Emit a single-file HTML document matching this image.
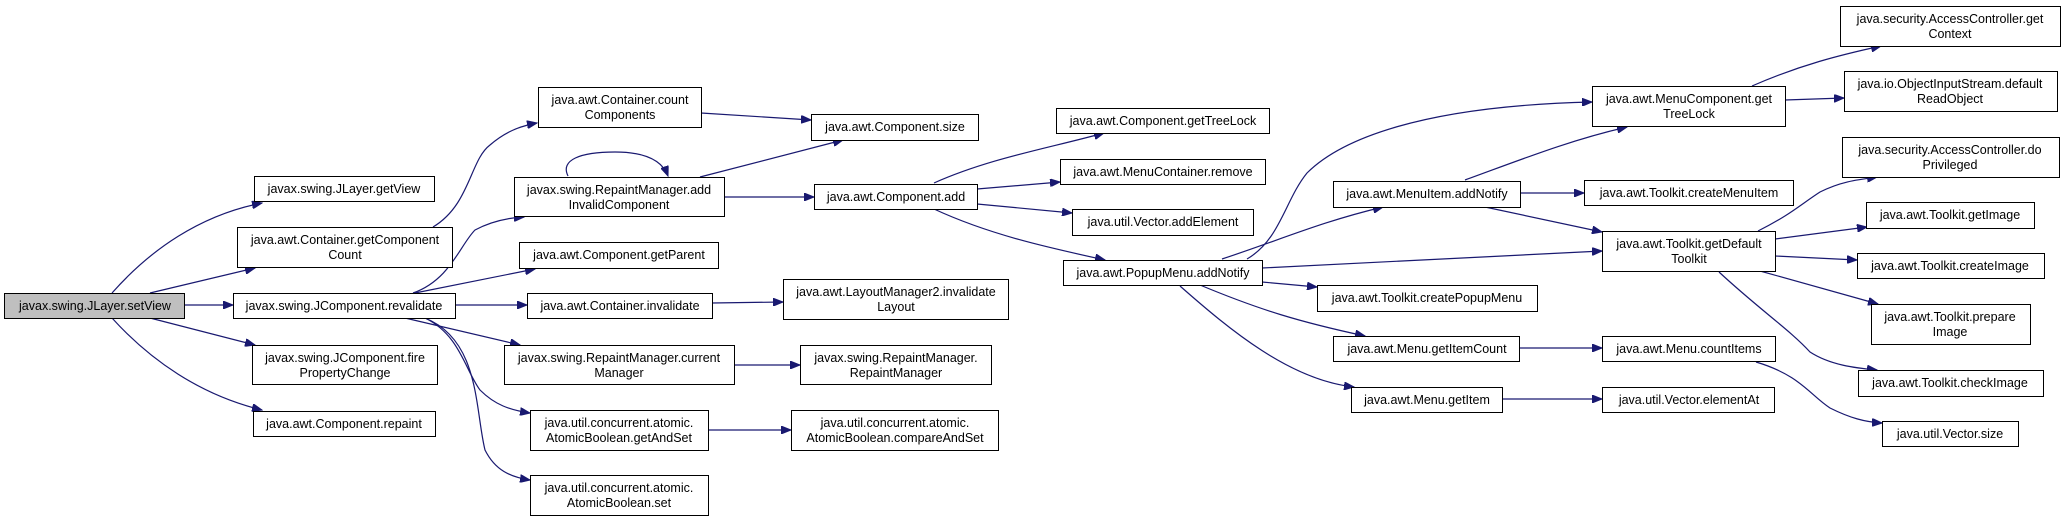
<!DOCTYPE html>
<html><head><meta charset="utf-8"><style>
html,body{margin:0;padding:0;background:#fff}
svg{display:block}
text{font-family:"Liberation Sans",Arial,sans-serif;font-size:12.5px;fill:#000;text-anchor:middle}
rect{fill:#fff;stroke:#000;stroke-width:1}
path{fill:none;stroke:#191970;stroke-width:1.2}
</style></head><body>
<svg width="2063" height="521" viewBox="0 0 2063 521" xmlns="http://www.w3.org/2000/svg">
<defs><marker id="a" markerWidth="11" markerHeight="8" refX="10" refY="4" orient="auto" markerUnits="userSpaceOnUse"><path d="M0,0 L10,4 L0,8 Z" style="fill:#191970;stroke:#191970;stroke-width:1"/></marker></defs>
<g marker-end="url(#a)">
<path d="M112,293 C150,250 200,215 262,203"/>
<path d="M150,293 L255,268"/>
<path d="M185,305 L233,305"/>
<path d="M150,318 L255,345"/>
<path d="M112,318 C150,360 200,395 262,410"/>
<path d="M433,227 C470,205 470,160 490,145 C505,132 520,126 537,123"/>
<path d="M413,293 C450,280 460,245 475,230 C490,222 505,218 524,217"/>
<path d="M415,293 L535,269"/>
<path d="M455,305 L527,305"/>
<path d="M405,318 L520,345"/>
<path d="M425,318 C460,335 465,370 480,390 C495,405 510,410 530,413"/>
<path d="M425,318 C480,340 475,410 485,450 C495,470 510,477 530,480"/>
<path d="M568,176 C560,160 580,152 615,152 C645,152 662,160 668,176"/>
<path d="M700,177 L843,140"/>
<path d="M701,113 L811,120"/>
<path d="M724,197 L814,197"/>
<path d="M712,303 L783,302"/>
<path d="M734,365 L800,365"/>
<path d="M708,430 L791,430"/>
<path d="M934,183 C990,158 1050,148 1104,133"/>
<path d="M977,189 L1060,182"/>
<path d="M977,204 L1072,213"/>
<path d="M934,209 C990,235 1050,248 1105,260"/>
<path d="M1247,259 C1280,240 1285,200 1307,173 C1340,140 1420,106 1592,102"/>
<path d="M1222,259 C1280,240 1320,222 1383,207"/>
<path d="M1262,268 L1602,251"/>
<path d="M1262,282 L1317,287"/>
<path d="M1200,285 C1260,310 1300,322 1365,336"/>
<path d="M1180,286 C1230,330 1290,380 1354,387"/>
<path d="M1465,180 C1520,160 1570,140 1627,127"/>
<path d="M1520,193 L1584,193"/>
<path d="M1485,207 L1602,232"/>
<path d="M1752,86 C1800,65 1840,55 1881,46"/>
<path d="M1785,100 L1844,98"/>
<path d="M1758,231 C1790,215 1800,205 1820,192 C1840,182 1855,180 1877,177"/>
<path d="M1775,239 L1867,227"/>
<path d="M1775,256 L1857,260"/>
<path d="M1760,271 L1878,304"/>
<path d="M1719,272 C1760,310 1790,330 1810,352 C1830,365 1855,368 1877,370"/>
<path d="M1520,348 L1602,348"/>
<path d="M1502,399 L1602,399"/>
<path d="M1756,362 C1800,375 1810,395 1830,408 C1850,418 1865,422 1882,423"/>
</g>
<g>
<rect x="4.5" y="293.5" width="180" height="25" style="fill:#bfbfbf"/><text x="95" y="310">javax.swing.JLayer.setView</text>
<rect x="254.5" y="176.5" width="180" height="25"/><text x="344" y="193">javax.swing.JLayer.getView</text>
<rect x="237.5" y="227.5" width="215" height="40"/><text x="345" y="244">java.awt.Container.getComponent</text><text x="345" y="259">Count</text>
<rect x="233.5" y="293.5" width="222" height="25"/><text x="344" y="310">javax.swing.JComponent.revalidate</text>
<rect x="252.5" y="345.5" width="185" height="39"/><text x="345" y="362">javax.swing.JComponent.fire</text><text x="345" y="377">PropertyChange</text>
<rect x="253.5" y="411.5" width="182" height="25"/><text x="344" y="428">java.awt.Component.repaint</text>
<rect x="538.5" y="87.5" width="163" height="40"/><text x="620" y="104">java.awt.Container.count</text><text x="620" y="119">Components</text>
<rect x="514.5" y="177.5" width="210" height="39"/><text x="619" y="194">javax.swing.RepaintManager.add</text><text x="619" y="209">InvalidComponent</text>
<rect x="519.5" y="242.5" width="199" height="26"/><text x="619" y="259">java.awt.Component.getParent</text>
<rect x="527.5" y="293.5" width="185" height="25"/><text x="620" y="310">java.awt.Container.invalidate</text>
<rect x="504.5" y="345.5" width="230" height="39"/><text x="619" y="362">javax.swing.RepaintManager.current</text><text x="619" y="377">Manager</text>
<rect x="530.5" y="410.5" width="178" height="40"/><text x="619" y="427">java.util.concurrent.atomic.</text><text x="619" y="442">AtomicBoolean.getAndSet</text>
<rect x="530.5" y="475.5" width="178" height="40"/><text x="619" y="492">java.util.concurrent.atomic.</text><text x="619" y="507">AtomicBoolean.set</text>
<rect x="811.5" y="114.5" width="167" height="26"/><text x="895" y="131">java.awt.Component.size</text>
<rect x="814.5" y="184.5" width="163" height="25"/><text x="896" y="201">java.awt.Component.add</text>
<rect x="783.5" y="279.5" width="225" height="40"/><text x="896" y="296">java.awt.LayoutManager2.invalidate</text><text x="896" y="311">Layout</text>
<rect x="800.5" y="345.5" width="191" height="39"/><text x="896" y="362">javax.swing.RepaintManager.</text><text x="896" y="377">RepaintManager</text>
<rect x="791.5" y="410.5" width="207" height="40"/><text x="895" y="427">java.util.concurrent.atomic.</text><text x="895" y="442">AtomicBoolean.compareAndSet</text>
<rect x="1056.5" y="108.5" width="213" height="25"/><text x="1163" y="125">java.awt.Component.getTreeLock</text>
<rect x="1060.5" y="159.5" width="205" height="25"/><text x="1163" y="176">java.awt.MenuContainer.remove</text>
<rect x="1072.5" y="209.5" width="181" height="26"/><text x="1163" y="226">java.util.Vector.addElement</text>
<rect x="1063.5" y="260.5" width="199" height="25"/><text x="1163" y="277">java.awt.PopupMenu.addNotify</text>
<rect x="1333.5" y="181.5" width="187" height="26"/><text x="1427" y="198">java.awt.MenuItem.addNotify</text>
<rect x="1317.5" y="285.5" width="220" height="26"/><text x="1427" y="302">java.awt.Toolkit.createPopupMenu</text>
<rect x="1333.5" y="336.5" width="186" height="25"/><text x="1427" y="353">java.awt.Menu.getItemCount</text>
<rect x="1351.5" y="387.5" width="151" height="25"/><text x="1427" y="404">java.awt.Menu.getItem</text>
<rect x="1592.5" y="86.5" width="193" height="40"/><text x="1689" y="103">java.awt.MenuComponent.get</text><text x="1689" y="118">TreeLock</text>
<rect x="1584.5" y="180.5" width="209" height="25"/><text x="1689" y="197">java.awt.Toolkit.createMenuItem</text>
<rect x="1602.5" y="231.5" width="173" height="40"/><text x="1689" y="248">java.awt.Toolkit.getDefault</text><text x="1689" y="263">Toolkit</text>
<rect x="1602.5" y="336.5" width="173" height="25"/><text x="1689" y="353">java.awt.Menu.countItems</text>
<rect x="1602.5" y="387.5" width="172" height="25"/><text x="1689" y="404">java.util.Vector.elementAt</text>
<rect x="1840.5" y="6.5" width="220" height="40"/><text x="1950" y="23">java.security.AccessController.get</text><text x="1950" y="38">Context</text>
<rect x="1844.5" y="71.5" width="213" height="40"/><text x="1950" y="88">java.io.ObjectInputStream.default</text><text x="1950" y="103">ReadObject</text>
<rect x="1842.5" y="137.5" width="217" height="40"/><text x="1950" y="154">java.security.AccessController.do</text><text x="1950" y="169">Privileged</text>
<rect x="1866.5" y="202.5" width="168" height="26"/><text x="1950" y="219">java.awt.Toolkit.getImage</text>
<rect x="1857.5" y="253.5" width="187" height="25"/><text x="1950" y="270">java.awt.Toolkit.createImage</text>
<rect x="1871.5" y="304.5" width="159" height="40"/><text x="1950" y="321">java.awt.Toolkit.prepare</text><text x="1950" y="336">Image</text>
<rect x="1858.5" y="370.5" width="185" height="26"/><text x="1950" y="387">java.awt.Toolkit.checkImage</text>
<rect x="1882.5" y="421.5" width="136" height="25"/><text x="1950" y="438">java.util.Vector.size</text>
</g>
</svg>
</body></html>
